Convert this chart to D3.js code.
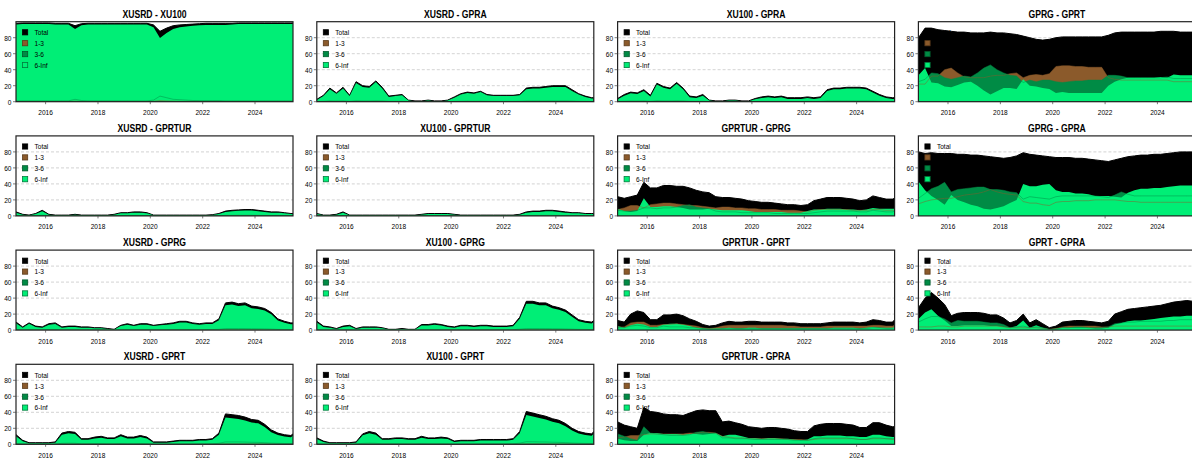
<!DOCTYPE html>
<html>
<head>
<meta charset="utf-8">
<script src="https://cdn.jsdelivr.net/npm/d3@7"></script>
<style>
  body { margin: 0; background: #fff; }
</style>
</head>
<body>
<svg id="vis" width="1192" height="459"></svg>
<script>
// quarterly sample dates (Feb / May / Aug / Nov) plus the last month
const dates = ["2014-11",
  "2015-02","2015-05","2015-08","2015-11",
  "2016-02","2016-05","2016-08","2016-11",
  "2017-02","2017-05","2017-08","2017-11",
  "2018-02","2018-05","2018-08","2018-11",
  "2019-02","2019-05","2019-08","2019-11",
  "2020-02","2020-05","2020-08","2020-11",
  "2021-02","2021-05","2021-08","2021-11",
  "2022-02","2022-05","2022-08","2022-11",
  "2023-02","2023-05","2023-08","2023-11",
  "2024-02","2024-05","2024-08","2024-11",
  "2025-02","2025-05",
  "2025-06"]

const titles = [
  "XUSRD - XU100", "XUSRD - GPRA", "XU100 - GPRA", "GPRG - GPRT",
  "XUSRD - GPRTUR", "XU100 - GPRTUR", "GPRTUR - GPRG", "GPRG - GPRA",
  "XUSRD - GPRG", "XU100 - GPRG", "GPRTUR - GPRT", "GPRT - GPRA",
  "XUSRD - GPRT", "XU100 - GPRT", "GPRTUR - GPRA"
]

const seriesNames = ["Total", "1-3", "3-6", "6-Inf"]
const seriesColors = ["#000000", "#8B5A2B", "#008B45", "#00EE76"]
const legendBorders = ["#000000", "#5a3a1a", "#005a2c", "#007a3c"]

const yTicks = [0, 20, 40, 60, 80]
const xTickYears = [2016, 2018, 2020, 2022, 2024]

// pairwise connectedness, total
const totalVals = [
  [98, 98.5,98.5,98.5,98.5, 98.5,98,98,98, 95,97.5,98,98, 98,98,98,98, 98,98,98,98, 96,88,92,95, 96,96.5,97,97.5, 98,98,98,98, 98,98.5,98.5,98.5, 98.5,98.5,98.5,98.5, 98.5,98.5, 98.5],
  [3, 8,17,11,18, 8,25,20,19, 26,18,7,8, 9,2,1,1, 2,1,1,2, 6,10,12,11, 13,9,8,8, 8,8,9,17, 18,18,19,20, 20,20,15,10, 7,5, 5],
  [4, 9,12,11,15, 8,23,19,17, 24,17,7,6, 9,2,1,1, 2,2,1,1, 4,6,7,6, 7,5,5,5, 6,5,6,15, 17,17,18,18, 18,17,13,9, 6,5, 5],
  [80, 92,92,90,89, 88,87,87,86, 86,86,87,86, 86,85,84,82, 80,78,77,78, 80,81,81,81, 81,81,81,81, 83,86,87,87, 87,87,87,87, 88,88,88,87, 87,87, 87],
  [5, 2,1,3,7, 2,1,1,1, 2,1,1,1, 1,1,2,4, 4,5,5,4, 1,1,1,1, 1,1,1,1, 1,1.5,3,6, 7,7.5,8,8, 7,6,5,5, 4,3, 3],
  [3, 1,1,2,5, 1,1,1,1, 1,1,1,1, 1,1,1,2, 3,3,3,3, 2,1,1,1, 1,1,1,1, 1,1,2,5, 6,6,7,7, 6,5,4,4, 3,3, 3],
  [24, 22,24,26,42, 35,35,38,38, 37,37,35,32, 30,29,24,23, 23,22,21,19, 18,17,17,16, 15,14,14,13, 14,19,21,23, 23,23,22,21, 19,20,25,23, 21,21, 22],
  [80, 78,79,78,78, 78,77,77,76, 76,75,74,73, 72,73,75,79, 77,76,75,74, 73,73,73,72, 72,71,70,69, 68,70,72,74, 75,76,76,77, 77,78,79,80, 80,80, 80],
  [10, 4,9,5,4, 8,9,4,5, 5,4,4,3, 3,2,1,6, 8,6,8,8, 6,7,8,9, 11,11,9,8, 9,9,14,34, 35,33,34,30, 29,27,22,14, 11,9, 9],
  [11, 5,4,2,5, 6,2,4,4, 4,3,1,1, 2,1,1,7, 7,8,7,5, 4,6,6,5, 6,6,5,5, 5,6,16,36, 36,34,34,30, 28,25,19,13, 11,10, 12],
  [12, 10,20,24,22, 13,13,19,19, 20,18,14,11, 7,5,6,9, 11,10,10,11, 11,10,10,10, 10,9,9,8, 8,8,8,9, 10,10,10,10, 9,10,13,12, 10,10, 13],
  [28, 40,47,40,32, 18,21,22,22, 22,21,19,19, 15,9,12,20, 9,13,8,3, 5,10,11,12, 12,11,10,9, 11,20,23,26, 27,28,29,30, 31,33,35,36, 37,36, 33],
  [12, 5,2,2,2, 2,3,14,16, 15,7,7,9, 10,8,8,12, 9,9,11,9, 3,3,3,4, 5,5,5,6, 6,7,14,38, 37,36,34,31, 30,25,18,14, 12,11, 13],
  [8, 4,2,2,2, 2,3,13,16, 14,7,7,8, 8,7,7,10, 8,8,9,8, 4,5,5,5, 6,6,6,6, 6,7,16,41, 39,37,35,32, 30,26,20,16, 14,13, 16],
  [28, 24,22,20,46, 41,40,38,37, 37,36,39,42, 43,42,42,28, 29,27,25,22, 21,20,21,21, 20,19,17,16, 16,23,25,26, 26,26,25,24, 21,21,27,27, 24,22, 22]
]

// frequency band 1-3
const band13 = [
  [0.4, 0.4,0.4,0.4,0.4, 0.4,0.4,0.4,0.4, 0.8,0.4,0.4,0.4, 0.4,0.4,0.4,0.4, 0.4,0.4,0.4,0.4, 0.6,1.5,1,0.8, 0.6,0.5,0.5,0.4, 0.4,0.4,0.4,0.4, 0.4,0.4,0.4,0.4, 0.4,0.4,0.4,0.4, 0.4,0.4, 0.4],
  [0.2, 0.2,0.3,0.3,0.3, 0.2,0.3,0.3,0.3, 0.3,0.3,0.2,0.2, 0.2,0.1,0.1,0.1, 0.1,0.1,0.1,0.1, 0.2,0.2,0.3,0.3, 0.3,0.2,0.2,0.2, 0.2,0.2,0.2,0.3, 0.3,0.3,0.3,0.3, 0.3,0.3,0.3,0.2, 0.2,0.2, 0.2],
  [0.2, 0.2,0.3,0.3,0.3, 0.2,0.3,0.3,0.3, 0.3,0.3,0.2,0.2, 0.2,0.1,0.1,0.1, 0.1,0.1,0.1,0.1, 0.1,0.2,0.2,0.2, 0.2,0.2,0.2,0.2, 0.2,0.2,0.2,0.3, 0.3,0.3,0.3,0.3, 0.3,0.3,0.3,0.2, 0.2,0.2, 0.2],
  [22, 22,32,32,40, 42,36,31,30, 30,30,32,33, 33,35,36,30, 33,34,33,35, 44,45,45,44, 44,43,43,43, 30,28,27,27, 27,27,27,27, 27,27,25,25, 25,25, 25],
  [0.1, 0.1,0.1,0.1,0.2, 0.1,0.1,0.1,0.1, 0.1,0.1,0.1,0.1, 0.1,0.1,0.1,0.1, 0.1,0.2,0.2,0.1, 0.1,0.1,0.1,0.1, 0.1,0.1,0.1,0.1, 0.1,0.1,0.1,0.2, 0.2,0.2,0.2,0.2, 0.2,0.2,0.1,0.1, 0.1,0.1, 0.1],
  [0.1, 0.1,0.1,0.1,0.1, 0.1,0.1,0.1,0.1, 0.1,0.1,0.1,0.1, 0.1,0.1,0.1,0.1, 0.1,0.1,0.1,0.1, 0.1,0.1,0.1,0.1, 0.1,0.1,0.1,0.1, 0.1,0.1,0.1,0.1, 0.2,0.2,0.2,0.2, 0.2,0.1,0.1,0.1, 0.1,0.1, 0.1],
  [8, 10,13,13,10, 14,15,16,16, 15,14,13,13, 12,11,10,11, 11,10,10,9, 9,8,8,8, 7,7,7,6, 5,7,8,8, 8,8,8,7, 7,7,8,8, 7,7, 7],
  [15, 18,20,21,22, 22,24,26,27, 28,30,33,30, 28,27,26,18, 16,16,14,13, 17,18,18,19, 19,19,20,20, 20,20,19,18, 18,17,17,17, 17,17,17,17, 17,17, 17],
  [0.3, 0.2,0.2,0.2,0.2, 0.2,0.2,0.2,0.2, 0.2,0.2,0.2,0.1, 0.1,0.1,0.1,0.2, 0.2,0.2,0.2,0.2, 0.2,0.2,0.2,0.2, 0.3,0.3,0.2,0.2, 0.2,0.2,0.3,0.5, 0.5,0.5,0.5,0.5, 0.5,0.4,0.4,0.3, 0.3,0.2, 0.2],
  [0.3, 0.2,0.2,0.1,0.2, 0.2,0.1,0.2,0.2, 0.2,0.1,0.1,0.1, 0.1,0.1,0.1,0.2, 0.2,0.2,0.2,0.2, 0.2,0.2,0.2,0.2, 0.2,0.2,0.2,0.2, 0.2,0.2,0.3,0.5, 0.5,0.5,0.5,0.5, 0.5,0.4,0.4,0.3, 0.3,0.3, 0.3],
  [4, 4,9,10,10, 6,6,7,7, 8,7,6,5, 3,2,3,5, 6,6,6,6, 6,6,6,6, 6,5,5,4, 4,4,4,5, 5,5,5,5, 5,5,6,6, 5,5, 6],
  [4, 4,4,5,5, 4,4,5,5, 5,5,5,5, 4,3,3,3, 3,3,2,1, 2,4,5,5, 5,5,5,4, 4,5,5,5, 5,5,5,5, 5,5,5,5, 5,5, 5],
  [0.3, 0.2,0.1,0.1,0.1, 0.1,0.1,0.3,0.3, 0.3,0.2,0.2,0.2, 0.2,0.2,0.2,0.3, 0.2,0.2,0.3,0.2, 0.1,0.1,0.1,0.1, 0.2,0.2,0.2,0.2, 0.2,0.2,0.3,0.6, 0.6,0.6,0.6,0.5, 0.5,0.5,0.4,0.3, 0.3,0.3, 0.3],
  [0.2, 0.1,0.1,0.1,0.1, 0.1,0.1,0.3,0.3, 0.3,0.2,0.2,0.2, 0.2,0.2,0.2,0.2, 0.2,0.2,0.2,0.2, 0.1,0.1,0.1,0.1, 0.2,0.2,0.2,0.2, 0.2,0.2,0.3,0.6, 0.6,0.6,0.6,0.5, 0.5,0.5,0.4,0.3, 0.3,0.3, 0.3],
  [8, 9,11,11,12, 13,13,13,13, 13,13,14,14, 15,15,14,10, 9,8,8,7, 7,7,7,7, 7,6,6,6, 5,6,7,7, 7,7,7,7, 6,6,7,7, 7,6, 6]
]

// frequency band 3-6
const band36 = [
  [1, 1,1,1,1, 1,1,1,1, 3,1.5,1,1, 1,1,1,1, 1,1,1,1, 2,7,5,3, 2.5,2,1.5,1.5, 1.5,1.5,1.5,1, 1,1,1,1, 1,1,1,1, 1,1, 1],
  [0.3, 0.5,1,0.8,1, 0.5,1.2,1,1, 1.2,1,0.5,0.5, 0.5,0.2,0.1,0.1, 0.1,0.1,0.1,0.1, 0.3,0.5,0.6,0.5, 0.6,0.5,0.4,0.4, 0.4,0.4,0.5,0.8, 0.9,0.9,0.9,1, 1,1,0.8,0.5, 0.4,0.3, 0.3],
  [0.4, 0.6,0.8,0.8,1, 0.5,1.2,1,1, 1.2,1,0.5,0.4, 0.5,0.2,0.1,0.1, 0.1,0.1,0.1,0.1, 0.3,0.4,0.4,0.4, 0.4,0.3,0.3,0.3, 0.4,0.3,0.4,0.8, 0.9,0.9,0.9,0.9, 0.9,0.9,0.7,0.5, 0.4,0.3, 0.3],
  [25, 28,36,35,30, 28,30,32,31, 36,42,46,40, 36,33,32,24, 27,25,27,27, 25,24,25,26, 26,27,27,27, 33,33,32,30, 30,30,30,30, 30,31,29,29, 29,29, 29],
  [0.5, 0.2,0.1,0.3,0.8, 0.2,0.1,0.1,0.1, 0.2,0.1,0.1,0.1, 0.1,0.1,0.2,0.4, 0.4,0.5,0.5,0.4, 0.1,0.1,0.1,0.1, 0.1,0.1,0.1,0.1, 0.1,0.2,0.3,0.6, 0.7,0.8,0.8,0.8, 0.7,0.6,0.5,0.5, 0.4,0.3, 0.3],
  [0.3, 0.1,0.1,0.2,0.5, 0.1,0.1,0.1,0.1, 0.1,0.1,0.1,0.1, 0.1,0.1,0.1,0.2, 0.3,0.3,0.3,0.3, 0.2,0.1,0.1,0.1, 0.1,0.1,0.1,0.1, 0.1,0.1,0.2,0.5, 0.6,0.6,0.7,0.7, 0.6,0.5,0.4,0.4, 0.3,0.3, 0.3],
  [7, 6,6,7,10, 10,9,10,10, 11,13,14,11, 10,9,6,5, 5,5,4,4, 4,4,4,3, 3,3,3,3, 3,4,5,6, 6,6,6,6, 5,5,7,6, 5,5, 6],
  [22, 28,34,37,42, 30,33,34,35, 36,36,33,33, 32,30,29,21, 24,23,22,21, 24,25,25,25, 25,25,25,24, 23,26,30,27, 25,25,25,25, 25,25,25,25, 25,25, 25],
  [0.8, 0.3,0.7,0.4,0.3, 0.6,0.7,0.3,0.4, 0.4,0.3,0.3,0.2, 0.2,0.2,0.1,0.5, 0.6,0.5,0.6,0.6, 0.5,0.5,0.6,0.7, 0.8,0.8,0.7,0.6, 0.7,0.7,1,2, 2,2,2,1.8, 1.7,1.6,1.3,0.9, 0.7,0.6, 0.6],
  [0.9, 0.4,0.3,0.2,0.4, 0.5,0.2,0.3,0.3, 0.3,0.2,0.1,0.1, 0.2,0.1,0.1,0.6, 0.6,0.7,0.6,0.4, 0.3,0.5,0.5,0.4, 0.5,0.5,0.4,0.4, 0.4,0.5,1.2,2, 2,2,2,1.8, 1.7,1.5,1.2,0.9, 0.8,0.7, 0.8],
  [3, 3,5,6,5, 3,3,5,4, 4,4,3,3, 2,1,1,2, 2,2,2,2, 2,2,2,2, 2,2,2,2, 2,2,2,2, 2,2,2,2, 2,2,3,3, 2,2, 3],
  [10, 14,17,17,14, 9,12,11,11, 11,10,9,9, 7,3,4,5, 3,4,3,1, 1,3,3,4, 4,3,3,3, 4,8,9,10, 10,11,11,11, 11,12,12,13, 13,13, 12],
  [1, 0.4,0.2,0.2,0.2, 0.2,0.2,1.2,1.4, 1.3,0.6,0.6,0.8, 0.9,0.7,0.7,1, 0.8,0.8,1,0.8, 0.2,0.2,0.2,0.3, 0.4,0.4,0.4,0.5, 0.5,0.6,1.2,3, 3,3,2.8,2.5, 2.4,2,1.5,1.2, 1,0.9, 1.1],
  [0.7, 0.3,0.2,0.2,0.2, 0.2,0.2,1.1,1.4, 1.2,0.6,0.6,0.7, 0.7,0.6,0.6,0.9, 0.7,0.7,0.8,0.7, 0.3,0.4,0.4,0.4, 0.5,0.5,0.5,0.5, 0.5,0.6,1.4,3.3, 3.2,3,2.9,2.6, 2.4,2.1,1.6,1.3, 1.1,1, 1.3],
  [13, 10,7,5,22, 14,13,12,11, 11,11,12,15, 16,14,14,8, 8,7,7,7, 6,6,6,6, 6,6,5,5, 5,7,8,8, 8,8,8,7, 6,6,8,8, 7,7, 7]
]

// frequency band 6-Inf
const band6inf = [
  [96.5, 97,97,97,97, 97,96.5,96.5,96.5, 91,95.5,96.5,96.5, 96.5,96.5,96.5,96.5, 96.5,96.5,96.5,96.5, 93,79.5,86,91, 93,94,95,95.5, 96,96,96,96, 96.5,97,97,97, 97,97,97,97, 97,97, 97],
  [2, 7,15.5,10,16.5, 7,23.5,18.5,17.5, 24.5,16.5,6,7, 8,1.5,0.7,0.7, 1.5,0.7,0.7,1.5, 5,9,11,10, 12,8,7,7, 7,7,8,15.5, 16.5,16.5,17.5,18.5, 18.5,18.5,13.5,9, 6,4, 4],
  [3, 7.5,10.5,9.5,13.5, 6.5,21.5,17.5,15.5, 22.5,15.5,5.5,4.5, 7.5,1.5,0.7,0.7, 1.5,1.5,0.7,0.7, 3,4.5,5.5,4.5, 5.5,3.5,3.5,3.5, 4.5,3.5,4.5,13.5, 15.5,15.5,16.5,16.5, 16.5,15.5,11.5,7.5, 4.5,3.5, 3.5],
  [33, 42,24,23,19, 18,21,24,25, 20,14,9,13, 17,17,16,28, 20,19,17,16, 11,12,11,11, 11,11,11,11, 20,25,28,30, 30,30,30,30, 31,30,34,33, 33,33, 33],
  [4, 1.5,0.7,2.3,5.7, 1.5,0.7,0.7,0.7, 1.5,0.7,0.7,0.7, 0.7,0.7,1.5,3.2, 3.2,4,4,3.2, 0.7,0.7,0.7,0.7, 0.7,0.7,0.7,0.7, 0.7,1.1,2.4,5, 5.9,6.3,6.8,6.8, 5.9,5,4,4, 3.2,2.4, 2.4],
  [2.3, 0.7,0.7,1.5,4, 0.7,0.7,0.7,0.7, 0.7,0.7,0.7,0.7, 0.7,0.7,0.7,1.5, 2.3,2.3,2.3,2.3, 1.5,0.7,0.7,0.7, 0.7,0.7,0.7,0.7, 0.7,0.7,1.5,4, 4.9,4.9,5.8,5.8, 4.9,4,3.2,3.2, 2.3,2.3, 2.3],
  [9, 6,5,6,22, 11,11,12,12, 11,10,8,8, 8,9,8,7, 7,7,7,6, 5,5,5,5, 5,4,4,4, 6,8,8,9, 9,9,8,8, 7,8,10,9, 9,9, 9],
  [43, 32,25,20,14, 26,20,17,14, 12,9,8,10, 12,16,20,40, 37,37,39,40, 32,30,30,28, 28,27,25,25, 25,24,23,29, 32,34,34,35, 35,36,37,38, 38,38, 38],
  [8.5, 3,7.8,4,3, 6.8,7.6,3,4, 4,3,3,2.3, 2.3,1.3,0.6,5, 6.8,5,6.8,6.8, 5,6,6.8,7.6, 9.5,9.5,7.6,6.8, 7.6,7.6,12.3,31, 32,30,31,27.2, 26.3,24.4,19.7,12.1, 9.3,7.4, 7.4],
  [9.5, 4,3,1.3,4, 4.9,1.3,3,3, 3,2.3,0.6,0.6, 1.3,0.6,0.6,5.8, 5.8,6.7,5.8,4, 3,4.9,4.9,4, 4.9,4.9,4,4, 4,4.9,14.2,33, 33,31,31,27.2, 25.3,22.5,16.8,11.1, 9.2,8.3, 10.2],
  [5, 3,6,8,7, 4,4,7,8, 8,7,5,3, 2,2,2,2, 3,2,2,3, 3,2,2,2, 2,2,2,2, 2,2,2,2, 3,3,3,3, 2,3,4,3, 3,3, 4],
  [14, 22,26,18,12, 5,5,6,6, 6,6,5,5, 4,3,5,12, 3,6,3,1, 2,3,3,3, 3,3,2,2, 3,7,9,11, 12,12,13,14, 15,16,17,17, 18,18, 16],
  [10, 3.8,1.2,1.2,1.2, 1.2,2,12,13.8, 12.8,5.6,5.6,7.4, 8.3,6.5,6.5,10.2, 7.4,7.4,9.2,7.4, 2,2,2,2.9, 3.8,3.8,3.8,4.7, 4.7,5.6,12,33.5, 32.6,31.6,29.8,27.1, 26.2,21.6,15.2,11.6, 9.8,8.9, 10.7],
  [6.6, 3,1.2,1.2,1.2, 1.2,2,11.2,13.8, 12,5.6,5.6,6.5, 6.5,5.6,5.6,8.3, 6.5,6.5,7.4,6.5, 3,3.8,3.8,3.8, 4.7,4.7,4.7,4.7, 4.7,5.6,13.8,36.5, 34.6,32.8,30.9,28.2, 26.4,22.7,17.2,13.5, 11.7,10.8, 13.5],
  [7, 5,4,4,12, 14,14,13,13, 13,12,13,13, 12,13,14,10, 12,12,10,8, 8,7,8,8, 7,7,6,5, 6,10,10,11, 11,11,10,10, 9,9,12,12, 10,9, 9]
]

const vis = d3.select("#vis")

// layout of the 4x4 grid of panels
const colLeft = 16, colStep = 300.8, plotW = 277
const rowTop = 21.7, rowStep = 114.2, plotH = 80

// pick a narrow font if one is installed, otherwise squeeze the regular one
const ctx = document.createElement("canvas").getContext("2d")
ctx.font = "bold 20px 'Liberation Sans Narrow', monospace"
const wNarrow = ctx.measureText("XUSRD - XU100").width
ctx.font = "bold 20px monospace"
const wMono = ctx.measureText("XUSRD - XU100").width
const hasNarrow = Math.abs(wNarrow - wMono) > 0.5
const fontFamily = hasNarrow ? "'Liberation Sans Narrow', 'Liberation Sans', Arial, sans-serif" : "'Liberation Sans', Arial, sans-serif"
const squeeze = hasNarrow ? 1 : 0.82

function label(g, x, y, txt, size, anchor, weight) {
  return g.append("text")
    .attr("transform", `translate(${x},${y}) scale(${squeeze},1)`)
    .attr("text-anchor", anchor)
    .attr("font-family", fontFamily)
    .attr("font-size", size)
    .attr("font-weight", weight || "normal")
    .attr("fill", "#000")
    .text(txt)
}

const parseMonth = d3.timeParse("%Y-%m")
const dateObjs = dates.map(s => { const d = parseMonth(s); d.setDate(15); return d })

const xScale = d3.scaleTime()
  .domain([new Date(2014, 10, 14), new Date(2025, 5, 14)])
  .range([0, plotW])
const yScale = d3.scaleLinear().domain([0, 100]).range([plotH, 0])

const area = d3.area().x(d => xScale(d.date)).y0(yScale(0)).y1(d => yScale(d.v))
const line = d3.line().x(d => xScale(d.date)).y(d => yScale(d.v))

vis.append("rect").attr("width", 1192).attr("height", 459).attr("fill", "#fff")

titles.forEach((title, p) => {
  const col = p % 4, row = Math.floor(p / 4)
  const left = colLeft + col * colStep
  const top = rowTop + row * rowStep
  const g = vis.append("g").attr("transform", `translate(${left},${top})`)

  const clipId = "clip" + p
  g.append("clipPath").attr("id", clipId)
    .append("rect").attr("width", plotW).attr("height", plotH)

  // dashed grid
  g.selectAll(".grid").data(yTicks.filter(t => t > 0)).enter()
    .append("line")
    .attr("x1", 0).attr("x2", plotW)
    .attr("y1", d => yScale(d)).attr("y2", d => yScale(d))
    .attr("stroke", "#c8c8c8").attr("stroke-width", 0.8)
    .attr("stroke-dasharray", "3,2")

  const all = [totalVals[p], band13[p], band36[p], band6inf[p]]
  const plot = g.append("g").attr("clip-path", `url(#${clipId})`)

  all.forEach((vals, s) => {
    const pts = vals.map((v, i) => ({ date: dateObjs[i], v: v }))
    plot.append("path")
      .datum(pts)
      .attr("d", area)
      .attr("fill", seriesColors[s])
      .attr("stroke", s === 0 ? "#000" : "none")
      .attr("stroke-width", 1)
  })

  // band outlines left visible over the filled areas
  ;[1, 2].forEach(s => {
    const pts = all[s].map((v, i) => ({ date: dateObjs[i], v: v }))
    plot.append("path")
      .datum(pts)
      .attr("d", line)
      .attr("fill", "none")
      .attr("stroke", seriesColors[s])
      .attr("stroke-opacity", 0.6)
      .attr("stroke-width", 0.8)
  })

  // frame
  g.append("rect")
    .attr("width", plotW).attr("height", plotH)
    .attr("fill", "none").attr("stroke", "#222").attr("stroke-width", 1.2)

  // y axis
  yTicks.forEach(t => {
    g.append("line").attr("x1", -3).attr("x2", 0)
      .attr("y1", yScale(t)).attr("y2", yScale(t))
      .attr("stroke", "#444").attr("stroke-width", 0.7)
    label(g, -4.5, yScale(t) + 2.8, t, 8, "end")
  })

  // x axis
  xTickYears.forEach(yr => {
    const xx = xScale(new Date(yr, 0, 1))
    g.append("line").attr("x1", xx).attr("x2", xx)
      .attr("y1", plotH).attr("y2", plotH + 2.5)
      .attr("stroke", "#444").attr("stroke-width", 0.7)
    label(g, xx, plotH + 13.5, yr, 8, "middle")
  })

  // title
  label(g, plotW / 2, -4.2, title, 10.5, "middle", "bold")

  // legend
  seriesNames.forEach((name, s) => {
    const cy = 10.6 + s * 10.9
    g.append("rect")
      .attr("x", 6.5).attr("y", cy - 2.6)
      .attr("width", 5.2).attr("height", 5.2)
      .attr("fill", seriesColors[s])
      .attr("stroke", legendBorders[s]).attr("stroke-width", 0.8)
    label(g, 18.5, cy + 2.8, name, 8, "start")
  })
})
</script>
</body>
</html>
